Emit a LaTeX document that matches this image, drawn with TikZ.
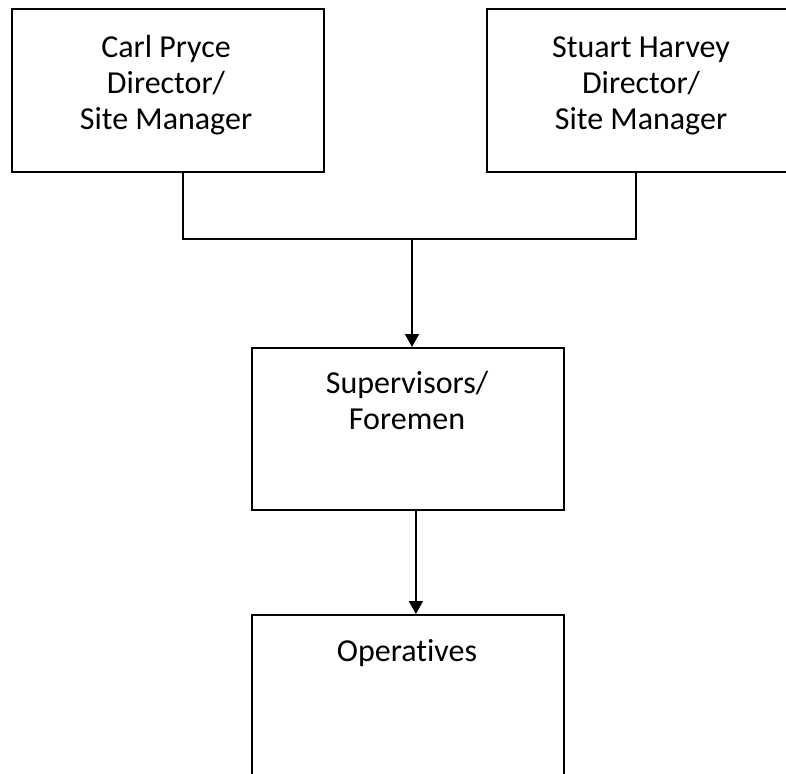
\documentclass[tikz,border=0pt]{standalone}
\usepackage{fontspec}
\setmainfont[Ligatures=NoCommon,RawFeature=-liga]{Carlito}
\usetikzlibrary{arrows.meta}
\begin{document}
\begin{tikzpicture}[x=1pt,y=-1pt,
  box/.style={draw=black,line width=1.8pt,fill=white,rectangle,inner sep=0pt,anchor=north west},
  txt/.style={font=\fontsize{32}{35.5}\selectfont,align=center,inner sep=0pt,anchor=base},
  link/.style={draw=black,line width=1.7pt},
  arr/.style={link,-{Triangle[width=14pt,length=13pt]}}]
\useasboundingbox (0,0) rectangle (786,773);
\node[box,minimum width=312pt,minimum height=163pt] (b1) at (11,8) {};
\node[box,minimum width=310pt,minimum height=163pt] (b2) at (486,8) {};
\node[box,minimum width=312pt,minimum height=162pt] (b3) at (251,347) {};
\node[box,minimum width=312pt,minimum height=163pt] (b4) at (251,614) {};
\node[txt] (t1) at (166,129) {Carl Pryce\\Director/\\Site Manager};
\node[txt] (t2) at (641,129) {Stuart Harvey\\Director/\\Site Manager};
\node[txt] (t3) at (407,429) {Supervisors/\\Foremen};
\node[txt] (t4) at (407,661) {Operatives};
\coordinate (j1) at (183,239);
\coordinate (j2) at (636,239);
\coordinate (j3) at (412,239);
\draw[link] (b1.south -| j1) -- (j1) -- (j2) -- (b2.south -| j2);
\draw[arr] (j3) -- (b3.north -| j3);
\draw[arr] ([xshift=8pt]b3.south) -- ([xshift=8pt]b4.north);
\end{tikzpicture}
\end{document}
